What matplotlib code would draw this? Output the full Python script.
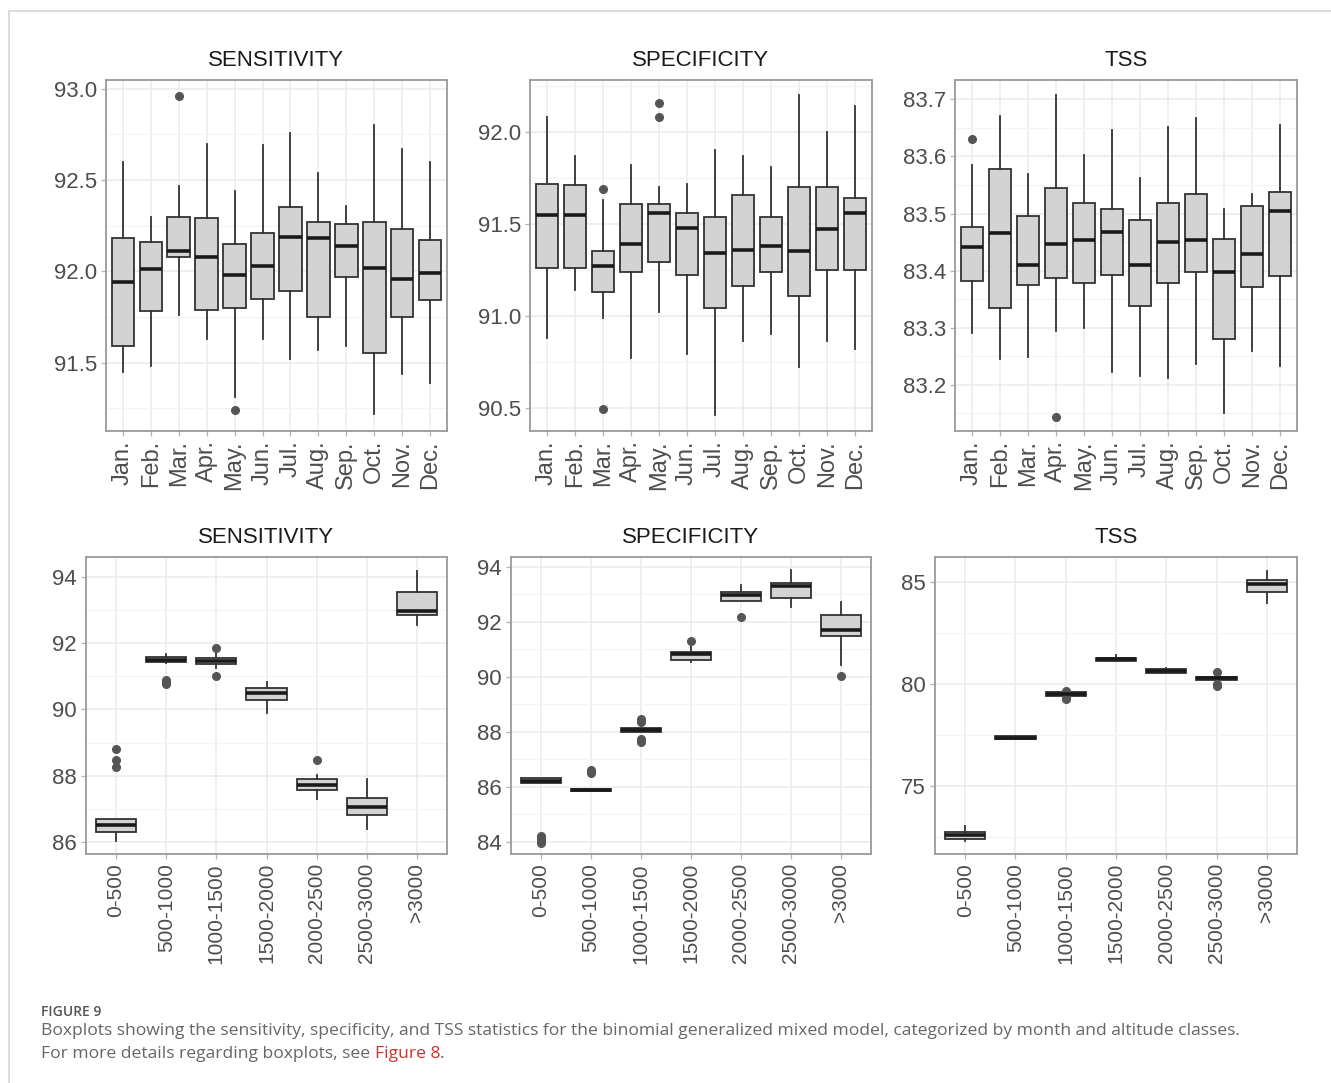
import matplotlib
matplotlib.use("Agg")
import matplotlib.pyplot as plt
from matplotlib.ticker import MultipleLocator, FixedLocator

# ---------------- DATA ----------------
months = ["Jan.", "Feb.", "Mar.", "Apr.", "May.", "Jun.", "Jul.", "Aug.", "Sep.", "Oct.", "Nov.", "Dec."]
altitudes = ["0-500", "500-1000", "1000-1500", "1500-2000", "2000-2500", "2500-3000", ">3000"]

# Sensitivity by month
sens_m_lo  = [91.45, 91.48, 91.76, 91.63, 91.31, 91.63, 91.52, 91.57, 91.59, 91.22, 91.44, 91.39]
sens_m_q1  = [91.59, 91.78, 92.08, 91.79, 91.80, 91.85, 91.89, 91.75, 91.97, 91.55, 91.75, 91.84]
sens_m_med = [91.94, 92.01, 92.11, 92.08, 91.98, 92.03, 92.19, 92.18, 92.14, 92.02, 91.96, 91.99]
sens_m_q3  = [92.18, 92.16, 92.30, 92.29, 92.15, 92.21, 92.35, 92.27, 92.26, 92.27, 92.23, 92.17]
sens_m_hi  = [92.60, 92.30, 92.47, 92.70, 92.44, 92.69, 92.76, 92.54, 92.36, 92.80, 92.67, 92.60]
sens_m_out = [[], [], [92.96], [], [91.24], [], [], [], [], [], [], []]

# Specificity by month
spec_m_lo  = [90.88, 91.14, 90.99, 90.77, 91.02, 90.79, 90.46, 90.86, 90.90, 90.72, 90.86, 90.82]
spec_m_q1  = [91.26, 91.26, 91.13, 91.24, 91.29, 91.22, 91.04, 91.16, 91.24, 91.11, 91.25, 91.25]
spec_m_med = [91.55, 91.55, 91.27, 91.39, 91.56, 91.48, 91.34, 91.36, 91.38, 91.35, 91.47, 91.56]
spec_m_q3  = [91.72, 91.71, 91.35, 91.61, 91.61, 91.56, 91.54, 91.66, 91.54, 91.70, 91.70, 91.64]
spec_m_hi  = [92.08, 91.87, 91.63, 91.82, 91.70, 91.72, 91.90, 91.87, 91.81, 92.20, 92.00, 92.14]
spec_m_out = [[], [], [91.69, 90.49], [], [92.16, 92.08], [], [], [], [], [], [], []]

# TSS by month
tss_m_lo  = [83.291, 83.246, 83.249, 83.294, 83.300, 83.223, 83.215, 83.212, 83.236, 83.151, 83.260, 83.233]
tss_m_q1  = [83.381, 83.335, 83.375, 83.387, 83.378, 83.393, 83.338, 83.378, 83.397, 83.280, 83.372, 83.391]
tss_m_med = [83.441, 83.466, 83.410, 83.447, 83.453, 83.468, 83.410, 83.450, 83.453, 83.398, 83.429, 83.505]
tss_m_q3  = [83.477, 83.578, 83.495, 83.545, 83.519, 83.508, 83.489, 83.519, 83.535, 83.455, 83.514, 83.538]
tss_m_hi  = [83.585, 83.671, 83.569, 83.708, 83.602, 83.646, 83.563, 83.652, 83.667, 83.508, 83.535, 83.655]
tss_m_out = [[83.630], [], [], [83.144], [], [], [], [], [], [], [], []]

# Sensitivity by altitude
sens_a_lo  = [86.03, 91.40, 91.25, 89.89, 87.31, 86.40, 92.56]
sens_a_q1  = [86.30, 91.42, 91.36, 90.30, 87.57, 86.83, 92.85]
sens_a_med = [86.50, 91.50, 91.47, 90.49, 87.71, 87.07, 92.97]
sens_a_q3  = [86.71, 91.58, 91.54, 90.65, 87.89, 87.33, 93.55]
sens_a_hi  = [86.71, 91.68, 91.72, 90.82, 88.02, 87.91, 94.19]
sens_a_out = [[88.80, 88.48, 88.26], [90.90, 90.82, 90.76], [91.85, 91.00], [], [88.48], [], []]

# Specificity by altitude
spec_a_lo  = [86.14, 85.85, 88.00, 90.53, 92.76, 92.54, 90.44]
spec_a_q1  = [86.14, 85.85, 88.00, 90.60, 92.76, 92.88, 91.48]
spec_a_med = [86.22, 85.88, 88.07, 90.84, 92.99, 93.30, 91.72]
spec_a_q3  = [86.31, 85.92, 88.13, 90.92, 93.08, 93.42, 92.26]
spec_a_hi  = [86.31, 85.92, 88.13, 91.11, 93.36, 93.88, 92.74]
spec_a_out = [[84.20, 84.10, 84.00, 83.95], [86.62, 86.52], [88.47, 88.37, 87.76, 87.64], [91.32], [92.18], [], [90.02]]

# TSS by altitude
tss_a_lo  = [72.30, 77.29, 79.42, 81.14, 80.55, 80.20, 83.97]
tss_a_q1  = [72.41, 77.29, 79.42, 81.14, 80.55, 80.20, 84.49]
tss_a_med = [72.58, 77.37, 79.52, 81.22, 80.66, 80.27, 84.90]
tss_a_q3  = [72.74, 77.46, 79.62, 81.28, 80.73, 80.34, 85.08]
tss_a_hi  = [73.04, 77.46, 79.62, 81.42, 80.79, 80.34, 85.56]
tss_a_out = [[], [], [79.68, 79.32, 79.25], [], [], [80.60, 80.01, 79.92], []]

titles = ["SENSITIVITY", "SPECIFICITY", "TSS"]

# ---------------- FIGURE ----------------
W, H = 1331, 1083
fig = plt.figure(figsize=(W / 100, H / 100), dpi=100)
fig.patch.set_facecolor("white")
FONT = ["Liberation Sans", "DejaVu Sans"]


def rect(x0, y0, x1, y1):
    return [x0 / W, 1 - y1 / H, (x1 - x0) / W, (y1 - y0) / H]


def make_stats(lo, q1, med, q3, hi, out):
    return [dict(whislo=a, q1=b, med=c, q3=d, whishi=e, fliers=f)
            for a, b, c, d, e, f in zip(lo, q1, med, q3, hi, out)]


def panel(box, title, labels, stats, ylim, major, minor_step, label_size, fmt):
    ax = fig.add_axes(rect(*box))
    n = len(labels)
    pos = list(range(1, n + 1))
    ax.set_axisbelow(True)
    ax.bxp(stats, positions=pos, widths=0.8, patch_artist=True, showcaps=False,
           boxprops=dict(facecolor="#d3d3d3", edgecolor="#333333", linewidth=1.3),
           whiskerprops=dict(color="#333333", linewidth=1.3),
           medianprops=dict(color="#1a1a1a", linewidth=2.6),
           flierprops=dict(marker="o", markerfacecolor="#555555", markeredgecolor="#555555",
                           markersize=5.5))
    ax.set_xlim(0.4, n + 0.6)
    ax.set_ylim(*ylim)
    ax.yaxis.set_major_locator(FixedLocator(major))
    ax.yaxis.set_minor_locator(MultipleLocator(minor_step))
    ax.set_xticks(pos)
    ax.set_xticklabels(labels, rotation=90, fontsize=label_size, color="#4d4d4d", family=FONT)
    ax.set_yticklabels([fmt % v for v in major], fontsize=16, color="#4d4d4d", family=FONT)
    ax.grid(which="major", color="#ebebeb", linewidth=1.1)
    ax.grid(which="minor", axis="y", color="#f3f3f3", linewidth=0.8)
    ax.tick_params(axis="both", which="major", length=3.5, width=0.9, color="#b3b3b3", pad=3)
    ax.tick_params(axis="y", which="minor", length=0)
    for s in ax.spines.values():
        s.set_color("#9a9a9a")
        s.set_linewidth(1.3)
    ax.set_title(title, fontsize=16, family=FONT, color="#1a1a1a", pad=10)
    return ax


top_boxes = [(106, 80, 447, 431), (530, 80, 872, 431), (955, 80, 1297, 431)]
bot_boxes = [(86, 557, 447, 854), (511, 557, 871, 854), (935, 557, 1297, 854)]

panel(top_boxes[0], titles[0], months,
      make_stats(sens_m_lo, sens_m_q1, sens_m_med, sens_m_q3, sens_m_hi, sens_m_out),
      (91.125, 93.048), [91.5, 92.0, 92.5, 93.0], 0.25, 17, "%.1f")
panel(top_boxes[1], titles[1], months,
      make_stats(spec_m_lo, spec_m_q1, spec_m_med, spec_m_q3, spec_m_hi, spec_m_out),
      (90.372, 92.284), [90.5, 91.0, 91.5, 92.0], 0.25, 17, "%.1f")
panel(top_boxes[2], titles[2], months,
      make_stats(tss_m_lo, tss_m_q1, tss_m_med, tss_m_q3, tss_m_hi, tss_m_out),
      (83.119, 83.734), [83.2, 83.3, 83.4, 83.5, 83.6, 83.7], 0.05, 17, "%.1f")
panel(bot_boxes[0], titles[0], altitudes,
      make_stats(sens_a_lo, sens_a_q1, sens_a_med, sens_a_q3, sens_a_hi, sens_a_out),
      (85.64, 94.60), [86, 88, 90, 92, 94], 1, 15, "%d")
panel(bot_boxes[1], titles[1], altitudes,
      make_stats(spec_a_lo, spec_a_q1, spec_a_med, spec_a_q3, spec_a_hi, spec_a_out),
      (83.56, 94.36), [84, 86, 88, 90, 92, 94], 1, 15, "%d")
panel(bot_boxes[2], titles[2], altitudes,
      make_stats(tss_a_lo, tss_a_q1, tss_a_med, tss_a_q3, tss_a_hi, tss_a_out),
      (71.66, 86.23), [75, 80, 85], 2.5, 15, "%d")

# outer frame (top and left edges)
fig.add_artist(plt.Line2D([9 / W, 1], [1 - 11 / H, 1 - 11 / H], color="#dcdcdc", linewidth=1.5,
                          transform=fig.transFigure))
fig.add_artist(plt.Line2D([9 / W, 9 / W], [1 - 11 / H, 0], color="#dcdcdc", linewidth=1.5,
                          transform=fig.transFigure))

# caption
CAP = ["Open Sans", "DejaVu Sans"]
CS = 12.6
fig.text(41 / W, 1 - 1012 / H, "FIGURE 9", fontsize=10, fontweight="semibold", color="#555555",
         family=CAP, va="center", ha="left")
fig.text(41 / W, 1 - 1031 / H,
         "Boxplots showing the sensitivity, specificity, and TSS statistics for the binomial generalized mixed model, categorized by month and altitude classes.",
         fontsize=CS, color="#666666", family=CAP, va="center", ha="left")
t2 = fig.text(41 / W, 1 - 1054 / H, "For more details regarding boxplots, see ",
              fontsize=CS, color="#666666", family=CAP, va="center", ha="left")
r = fig.canvas.get_renderer()
bb = t2.get_window_extent(renderer=r)
t3 = fig.text(bb.x1 / W, 1 - 1054 / H, "Figure 8", fontsize=CS, color="#d0312d", family=CAP,
              va="center", ha="left")
bb3 = t3.get_window_extent(renderer=r)
fig.text(bb3.x1 / W, 1 - 1054 / H, ".", fontsize=CS, color="#666666", family=CAP,
         va="center", ha="left")

fig.savefig("out.png", dpi=100)
